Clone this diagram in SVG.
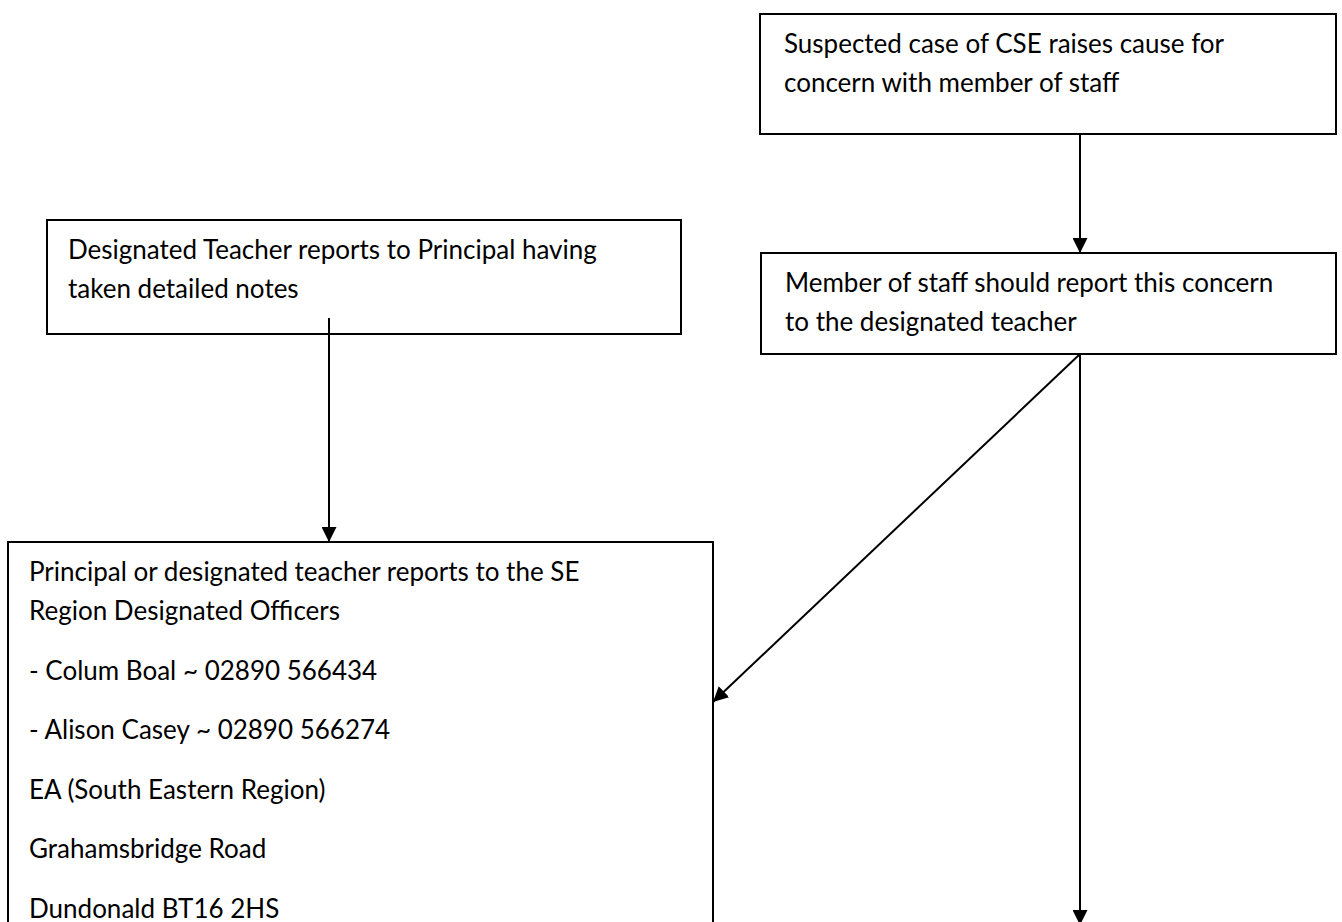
<svg xmlns="http://www.w3.org/2000/svg" width="1342" height="922" viewBox="0 0 1342 922">
<style>
.box{fill:#fff;stroke:#000;stroke-width:2}
.t{font-family:Lato,"Liberation Sans",sans-serif;font-size:26px;fill:#000}
.c{stroke:#000;stroke-width:2;fill:none}
</style>
<defs>
<marker id="ah" viewBox="0 0 10 10" refX="10" refY="5" markerWidth="7.5" markerHeight="7.5" markerUnits="strokeWidth" orient="auto">
<path d="M0,0 L10,5 L0,10 z" fill="#000"/>
</marker>
</defs>
<rect width="1342" height="922" fill="#fff"/>
<g id="n1">
<rect class="box" x="760" y="14" width="576" height="120"/>
<text class="t" x="784" y="53">Suspected case of CSE raises cause for</text>
<text class="t" x="784" y="92">concern with member of staff</text>
</g>
<g id="n2">
<rect class="box" x="761" y="253" width="575" height="101"/>
<text class="t" x="785" y="292">Member of staff should report this concern</text>
<text class="t" x="785" y="331">to the designated teacher</text>
</g>
<g id="n3">
<rect class="box" x="47" y="220" width="634" height="114"/>
<text class="t" x="68" y="259">Designated Teacher reports to Principal having</text>
<text class="t" x="68" y="298">taken detailed notes</text>
</g>
<g id="n4">
<rect class="box" x="8" y="542" width="705" height="400"/>
<text class="t" x="29" y="581">Principal or designated teacher reports to the SE</text>
<text class="t" x="29" y="620">Region Designated Officers</text>
<text class="t" x="29" y="680">- Colum Boal ~ 02890 566434</text>
<text class="t" x="29" y="739">- Alison Casey ~ 02890 566274</text>
<text class="t" x="29" y="799">EA (South Eastern Region)</text>
<text class="t" x="29" y="858">Grahamsbridge Road</text>
<text class="t" x="29" y="918">Dundonald BT16 2HS</text>
</g>
<g id="connectors">
<line class="c" x1="1080" y1="134" x2="1080" y2="253" marker-end="url(#ah)"/>
<line class="c" x1="329" y1="318" x2="329" y2="542" marker-end="url(#ah)"/>
<line class="c" x1="1080" y1="354" x2="713" y2="702" marker-end="url(#ah)"/>
<line class="c" x1="1080" y1="354" x2="1080" y2="925" marker-end="url(#ah)"/>
</g>
</svg>
